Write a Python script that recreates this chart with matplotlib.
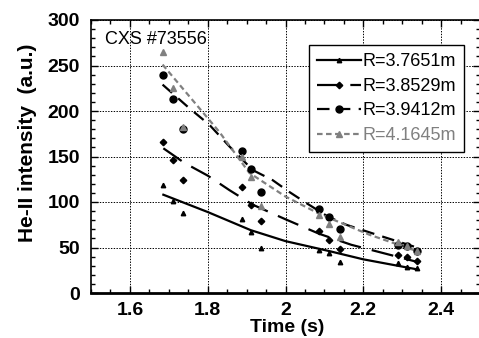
#!/usr/bin/env python3
"""He-II intensity decay at four major radii, CXS shot #73556."""

import matplotlib

matplotlib.use("Agg")

import matplotlib.pyplot as plt
from matplotlib.lines import Line2D
from matplotlib.ticker import MultipleLocator

plt.rcParams["font.family"] = ["Liberation Sans", "DejaVu Sans"]
plt.rcParams["lines.scale_dashes"] = False

# measured points (same time bins for every radius)
times = [1.686, 1.711, 1.736, 1.887, 1.912, 1.938,
         2.087, 2.113, 2.139, 2.289, 2.313, 2.338]
pts_37651 = [119, 101, 88, 81, 67, 50, 47, 44, 34, 33, 29, 27]
pts_38529 = [166, 146, 124, 116, 97, 79, 68, 58, 48, 42, 40, 35]
pts_39412 = [240, 213, 180, 156, 136, 111, 92, 83, 70, 53, 52, 46]
pts_41645 = [265, 225, 182, 150, 128, 96, 86, 76, 62, 56, 52, 46]

# fitted curves
fit_t_37651 = [1.686, 1.8, 1.911, 2.0, 2.113, 2.2, 2.338]
fit_v_37651 = [108, 89, 69, 57, 46, 37, 26]
fit_t_38529 = [1.686, 1.74, 1.8, 1.856, 1.916, 2.0, 2.087, 2.169, 2.25, 2.34]
fit_v_38529 = [159, 143, 129, 113, 97, 81, 65, 53, 44, 34]
fit_t_39412 = [1.684, 1.753, 1.804, 1.856, 1.916, 1.967, 2.01, 2.053, 2.109,
               2.156, 2.242, 2.345]
fit_v_39412 = [229, 203, 185, 161, 135, 124, 111, 99, 84, 75, 63, 49]
fit_t_41645 = [1.684, 1.83, 1.907, 2.0, 2.087, 2.216, 2.345]
fit_v_41645 = [251, 177, 132, 106, 87, 64, 45]

labels = ["R=3.7651m", "R=3.8529m", "R=3.9412m", "R=4.1645m"]

GRAY = "#808080"
styles = [
    dict(color="black", lw=1.6, ls="-", marker="^", ms=3.2, dashes=None),
    dict(color="black", lw=1.6, ls="--", marker="D", ms=3.3, dashes=(16, 8)),
    dict(color="black", lw=1.6, ls="--", marker="o", ms=5, dashes=(9, 6)),
    dict(color=GRAY, lw=1.6, ls="--", marker="^", ms=4.5, dashes=(4, 2.5)),
]

series = [
    (pts_37651, fit_t_37651, fit_v_37651),
    (pts_38529, fit_t_38529, fit_v_38529),
    (pts_39412, fit_t_39412, fit_v_39412),
    (pts_41645, fit_t_41645, fit_v_41645),
]

fig = plt.figure(figsize=(4.79, 3.38), dpi=100)
ax = fig.add_axes([91 / 479, 1 - 293 / 338, 389 / 479, 273 / 338])

handles = []
for (pts, ft, fv), st, lab in zip(series, styles, labels):
    line_kw = dict(color=st["color"], lw=st["lw"], ls=st["ls"])
    if st["dashes"] is not None:
        line_kw["dashes"] = st["dashes"]
    ax.plot(ft, fv, **line_kw, zorder=3)
    ax.plot(times, pts, ls="none", marker=st["marker"], ms=st["ms"],
            color=st["color"], zorder=4)
    handles.append(Line2D([0], [0], marker=st["marker"], ms=st["ms"],
                          **line_kw))

ax.set_xlim(1.5, 2.5)
ax.set_ylim(0, 300)
ax.xaxis.set_minor_locator(MultipleLocator(0.05))
ax.yaxis.set_major_locator(MultipleLocator(50))
ax.yaxis.set_minor_locator(MultipleLocator(10))
ax.set_xticks([1.6, 1.8, 2.0, 2.2, 2.4])
ax.set_xticklabels(["1.6", "1.8", "2", "2.2", "2.4"])

ax.tick_params(which="both", direction="in", top=True, right=True,
               width=1.0)
ax.tick_params(which="major", length=5, labelsize=14)
ax.tick_params(axis="x", which="major", pad=6.5)
ax.tick_params(axis="y", which="major", pad=8)
ax.tick_params(which="minor", length=3)
for lbl in ax.get_xticklabels() + ax.get_yticklabels():
    lbl.set_fontweight("bold")

for side in ["left", "top", "right"]:
    ax.spines[side].set_linewidth(1.2)
ax.spines["bottom"].set_linewidth(2.0)

ax.grid(True, which="major", color="black", ls=(0, (1, 1)), lw=0.7)
ax.set_axisbelow(True)

ax.text(0.036, 0.927, "CXS #73556", transform=ax.transAxes,
        fontsize=13, ha="left", va="center")

leg = ax.legend(handles, labels, loc="upper left",
                bbox_to_anchor=(0.561, 0.908), borderaxespad=0,
                fontsize=13, handlelength=2.4, handletextpad=0.1,
                labelspacing=0.42, borderpad=0.45, fancybox=False,
                framealpha=1, edgecolor="black")
leg.get_frame().set_linewidth(1.0)
leg.get_texts()[3].set_color(GRAY)

fig.text(28 / 479, 1 - 142.5 / 338, "He-II intensity  (a.u.)",
         rotation=90, ha="center", va="center", fontsize=15,
         fontweight="bold")
fig.text(287 / 479, 1 - 328 / 338, "Time (s)", ha="center", va="center",
         fontsize=14, fontweight="bold")

fig.savefig("out.png", dpi=100)
